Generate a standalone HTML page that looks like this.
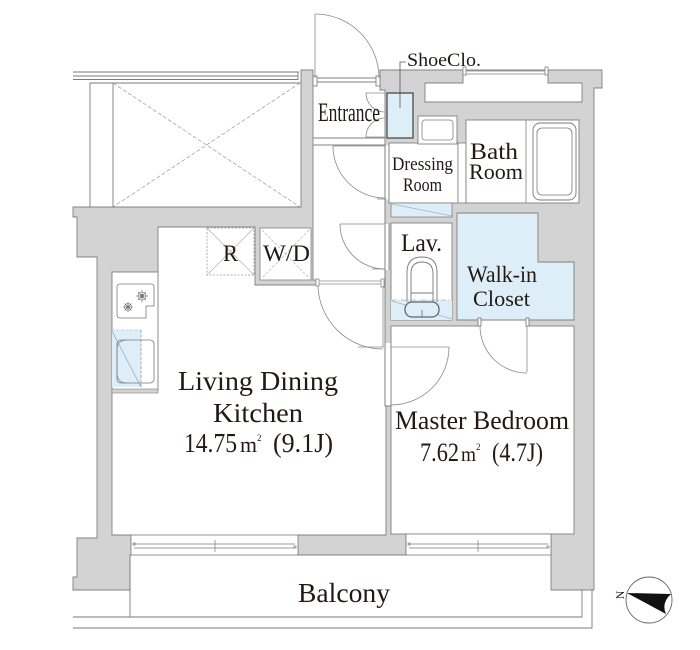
<!DOCTYPE html>
<html>
<head>
<meta charset="utf-8">
<style>
  html,body{margin:0;padding:0;background:#fff;}
  svg{display:block;}
  text{font-family:"Liberation Serif","DejaVu Serif",serif;fill:#231815;}
</style>
</head>
<body>
<svg width="700" height="650" viewBox="0 0 700 650" xmlns="http://www.w3.org/2000/svg">
  <rect x="0" y="0" width="700" height="650" fill="#fff"/>

  <!-- top-left balcony / storage area -->
  <g stroke="#7a7a7a" stroke-width="0.9" fill="none">
    <line x1="73" y1="72" x2="299" y2="72"/>
    <line x1="73" y1="76" x2="298" y2="76"/>
    <line x1="73" y1="79.5" x2="298" y2="79.5"/>
    <line x1="298" y1="72" x2="298" y2="80"/>
    <line x1="90" y1="83" x2="301" y2="83"/>
    <line x1="90" y1="83" x2="90" y2="207"/>
    <line x1="113" y1="83" x2="113" y2="207"/>
  </g>
  <g stroke="#9a9a9a" stroke-width="0.7" stroke-dasharray="4,2" fill="none">
    <line x1="113" y1="83" x2="300" y2="207"/>
    <line x1="300" y1="83" x2="113" y2="207"/>
  </g>

  <!-- gray walls -->
  <g fill="#d3d3d3" stroke="#808080" stroke-width="0.9">
    <polygon points="73,207 301,207 301,70 313,70 313,280 318,280 318,285 255,285 255,227 158,227 158,272 112,272 112,535 131,535 131,555 130,555 130,590 73,590 73,577 77,577 77,538 97,538 97,257 77,257 77,217 73,217"/>
    <polygon points="298,535 386,535 386,405 391,405 391,534 406,534 406,555 298,555"/>
    <polygon points="380,70 602,70 602,88 594,88 594,590 551,590 551,534 391,534 391,406 385,406 385,90 380,90"/>
  </g>

  <!-- white T (top right) -->
  <path d="M463,70 L548,70 L548,83 L582,83 L582,102 L425,102 L425,83 L463,83 Z" fill="#fff" stroke="#808080" stroke-width="0.9"/>
  <g stroke="#808080" stroke-width="0.8" fill="none">
    <line x1="465" y1="71" x2="546" y2="71"/>
    <line x1="465" y1="74" x2="546" y2="74"/>
    <rect x="463" y="67" width="3" height="8" fill="#fff"/>
    <rect x="545" y="67" width="3" height="8" fill="#fff"/>
  </g>

  <!-- entrance -->
  <g stroke="#808080" stroke-width="0.9" fill="none">
    <line x1="313" y1="78" x2="380" y2="78"/>
    <line x1="313" y1="82" x2="380" y2="82"/>
    <rect x="313" y="76" width="4" height="10" fill="#fff"/>
    <rect x="376" y="76" width="4" height="10" fill="#fff"/>
    <line x1="313" y1="138" x2="385" y2="138"/>
    <line x1="313" y1="145" x2="385" y2="145"/>
  </g>
  <!-- entrance door -->
  <g stroke="#8a8a8a" stroke-width="0.8" fill="none">
    <line x1="315" y1="14" x2="315" y2="78"/>
    <path d="M315,14 A64,64 0 0 1 379,78"/>
    <!-- shoe closet small doors -->
    <path d="M385,93 L366,93 A19,19 0 0 0 385,112"/>
    <path d="M385,137 L366,137 A19,19 0 0 1 385,118"/>
  </g>

  <!-- ShoeClo -->
  <rect x="387" y="93" width="26" height="45" fill="#ddeef9" stroke="#555" stroke-width="1.4"/>
  <polyline points="400,108 400,62 406,62" fill="none" stroke="#555" stroke-width="0.8"/>

  <!-- Dressing room -->
  <rect x="389" y="143" width="69" height="60" fill="#fff" stroke="#808080" stroke-width="0.9"/>
  <rect x="418" y="116" width="39" height="28" fill="#fff" stroke="#808080" stroke-width="0.9"/>
  <rect x="422" y="120" width="31" height="20" rx="3" fill="none" stroke="#808080" stroke-width="0.8"/>
  <rect x="391" y="203" width="61" height="14" fill="#ddeef9" stroke="#808080" stroke-width="0.8"/>
  <line x1="392" y1="204" x2="452" y2="216" stroke="#8a9aa8" stroke-width="0.6"/>
  <!-- bath door -->
  <rect x="458" y="143" width="8" height="60" fill="#fff" stroke="#808080" stroke-width="0.8"/>
  <polyline points="466,191 488,195 466,199" fill="none" stroke="#8a8a8a" stroke-width="0.6"/>

  <!-- Bath room -->
  <rect x="466" y="120" width="113" height="83" fill="#fff" stroke="#808080" stroke-width="0.9"/>
  <line x1="526" y1="120" x2="526" y2="203" stroke="#808080" stroke-width="0.8"/>
  <rect x="533" y="123" width="43" height="77" rx="7" fill="#fff" stroke="#7a7a7a" stroke-width="0.9"/>
  <rect x="537" y="128" width="35" height="67" rx="5" fill="none" stroke="#7a7a7a" stroke-width="0.8"/>

  <!-- Lav -->
  <rect x="391" y="223" width="61" height="97" fill="#fff" stroke="#808080" stroke-width="0.9"/>
  <rect x="391" y="300" width="61" height="20" fill="#ddeef9" stroke="none"/>
  <line x1="391" y1="300" x2="452" y2="300" stroke="#8a9aa8" stroke-width="0.6" stroke-dasharray="5,2,1,2"/>
  <line x1="392" y1="301" x2="452" y2="319" stroke="#8a9aa8" stroke-width="0.6"/>
  <g fill="none" stroke="#7a7a7a" stroke-width="0.9">
    <path d="M407,302 L407,272 Q407,257 422,257 Q437,257 437,272 L437,302"/>
    <path d="M411,302 L411,274 Q411,262 422,262 Q433,262 433,274 L433,302"/>
    <line x1="411" y1="293" x2="433" y2="293"/>
    <rect x="405" y="302" width="34" height="15" rx="7" stroke="#666" stroke-width="1.3" fill="#ddeef9"/>
    <line x1="422" y1="310" x2="422" y2="317"/>
  </g>

  <!-- Walk-in closet -->
  <polygon points="457,213 538,213 538,262 574,262 574,320 457,320" fill="#ddeef9" stroke="#808080" stroke-width="0.9"/>

  <!-- Bedroom -->
  <rect x="391" y="326" width="183" height="208" fill="#fff" stroke="#808080" stroke-width="0.9"/>

  <!-- partition openings -->
  <g fill="#fff" stroke="none">
    <rect x="385.5" y="145.5" width="3.5" height="54"/>
    <rect x="385.5" y="224" width="3.5" height="46"/>
    <rect x="385.5" y="343" width="5.5" height="62.5"/>
    <rect x="480" y="319.5" width="47" height="7"/>
  </g>
  <g stroke="#808080" stroke-width="0.9" fill="none">
    <line x1="385" y1="143" x2="385" y2="406"/>
    <line x1="389" y1="145" x2="389" y2="200"/>
    <line x1="389" y1="223" x2="389" y2="270"/>
    <line x1="391" y1="343" x2="391" y2="406"/>
    <line x1="480" y1="320" x2="527" y2="320"/>
    <rect x="478" y="318" width="3" height="8" fill="#fff"/>
    <rect x="526" y="318" width="3" height="8" fill="#fff"/>
  </g>

  <!-- doors -->
  <g stroke="#8a8a8a" stroke-width="0.8" fill="none">
    <!-- dressing door -->
    <line x1="333" y1="146" x2="385" y2="146"/>
    <path d="M333,146 A52,52 0 0 0 385,198"/>
    <line x1="377" y1="199" x2="386" y2="199"/>
    <!-- lav door -->
    <line x1="340" y1="224" x2="385" y2="224"/>
    <path d="M340,224 A45,45 0 0 0 385,269"/>
    <line x1="372" y1="269" x2="385" y2="269"/>
    <!-- LDK door -->
    <line x1="318" y1="281" x2="383" y2="281"/>
    <line x1="318" y1="284" x2="383" y2="284"/>
    <rect x="316" y="279" width="3" height="7" fill="#fff"/>
    <rect x="381" y="279" width="3" height="8" fill="#fff"/>
    <path d="M318,286 A65,65 0 0 0 383,349"/>
    <line x1="358" y1="347" x2="384" y2="347"/>
    <line x1="383" y1="286" x2="383" y2="347"/>
    <!-- bedroom door -->
    <line x1="391" y1="347" x2="449" y2="347"/>
    <path d="M449,347 A58,58 0 0 1 391,405"/>
    <!-- closet door -->
    <line x1="527" y1="326" x2="527" y2="372"/>
    <path d="M480,326 A47,47 0 0 0 527,373"/>
  </g>

  <!-- R and W/D -->
  <rect x="207" y="228" width="47" height="47" fill="#fff" stroke="#999" stroke-width="0.8" stroke-dasharray="2,1.5"/>
  <g stroke="#aaa" stroke-width="0.6" fill="none">
    <line x1="207" y1="228" x2="254" y2="275"/>
    <line x1="254" y1="228" x2="207" y2="275"/>
  </g>
  <rect x="260" y="228" width="51" height="52" fill="#fff" stroke="#808080" stroke-width="0.8"/>
  <g stroke="#aaa" stroke-width="0.6" fill="none" stroke-dasharray="3,1.5">
    <line x1="262" y1="230" x2="309" y2="278"/>
    <line x1="309" y1="230" x2="262" y2="278"/>
  </g>

  <!-- kitchen counter -->
  <rect x="112" y="272" width="46" height="118" fill="#fff" stroke="#808080" stroke-width="0.9"/>
  <rect x="112" y="389" width="46" height="4" fill="#d3d3d3" stroke="#808080" stroke-width="0.6"/>
  <path d="M117,287 Q117,284 120,284 L151,284 Q154,284 154,287 L154,306 L146,306 L146,318 L120,318 Q117,318 117,315 Z" fill="#fff" stroke="#7a7a7a" stroke-width="0.8"/>
  <g stroke="#6a6a6a" stroke-width="0.6" fill="none">
    <circle cx="142" cy="296" r="4"/>
    <circle cx="142" cy="296" r="1.8"/>
    <line x1="136" y1="296" x2="148" y2="296"/>
    <line x1="142" y1="290" x2="142" y2="302"/>
    <line x1="138" y1="292" x2="146" y2="300"/>
    <line x1="146" y1="292" x2="138" y2="300"/>
    <circle cx="128" cy="307" r="3.5"/>
    <circle cx="128" cy="307" r="1.5"/>
    <line x1="123" y1="307" x2="133" y2="307"/>
    <line x1="128" y1="302" x2="128" y2="312"/>
    <line x1="124.5" y1="303.5" x2="131.5" y2="310.5"/>
    <line x1="131.5" y1="303.5" x2="124.5" y2="310.5"/>
  </g>
  <rect x="112" y="330" width="29" height="57" fill="#ddeef9"/>
  <rect x="117" y="340" width="37" height="43" rx="4" fill="none" stroke="#7a7a7a" stroke-width="0.8"/>
  <path d="M127,340 Q117,340 117,350 L117,373 Q117,383 127,383" fill="none" stroke="#7a7a7a" stroke-width="0.7"/>
  <line x1="141" y1="330" x2="141" y2="388" stroke="#888" stroke-width="0.7" stroke-dasharray="3,1.5"/>
  <line x1="112" y1="330" x2="141" y2="330" stroke="#aaa" stroke-width="0.6" stroke-dasharray="3,1.5"/>
  <line x1="112" y1="331" x2="141" y2="387" stroke="#8a9aa8" stroke-width="0.6"/>

  <!-- windows -->
  <g stroke="#7a7a7a" stroke-width="0.8" fill="#fff">
    <rect x="131" y="535" width="167" height="20"/>
    <rect x="406" y="534" width="145" height="21"/>
  </g>
  <g stroke="#7a7a7a" stroke-width="0.7" fill="none">
    <line x1="134" y1="544" x2="295" y2="544"/>
    <line x1="134" y1="548" x2="295" y2="548"/>
    <line x1="215" y1="540" x2="215" y2="552"/>
    <rect x="133" y="543" width="2" height="2"/>
    <rect x="294" y="546" width="2" height="2"/>
    <line x1="409" y1="544" x2="548" y2="544"/>
    <line x1="409" y1="548" x2="548" y2="548"/>
    <line x1="478" y1="540" x2="478" y2="552"/>
    <rect x="408" y="543" width="2" height="2"/>
    <rect x="547" y="546" width="2" height="2"/>
  </g>

  <!-- balcony lines -->
  <g stroke="#7a7a7a" stroke-width="0.9" fill="none">
    <line x1="130" y1="555" x2="130" y2="617"/>
    <polyline points="73,617 582,617 582,590"/>
    <polyline points="73,628 592,628 592,590"/>
  </g>

  <!-- compass -->
  <circle cx="649" cy="600" r="23" fill="#fff" stroke="#666" stroke-width="0.9"/>
  <path d="M627,593 L671,594 Q661,603 666,614 Z" fill="#111"/>
  <text x="0" y="0" font-size="12" transform="translate(624,595) rotate(-90)" text-anchor="middle" fill="#111">N</text>

  <!-- labels -->
  <text x="407" y="66" font-size="19" textLength="74" lengthAdjust="spacingAndGlyphs">ShoeClo.</text>
  <text x="318" y="121" font-size="26" textLength="62" lengthAdjust="spacingAndGlyphs">Entrance</text>
  <text x="392" y="170" font-size="19" textLength="61" lengthAdjust="spacingAndGlyphs">Dressing</text>
  <text x="403" y="191" font-size="19" textLength="39" lengthAdjust="spacingAndGlyphs">Room</text>
  <text x="470" y="159" font-size="23" textLength="48" lengthAdjust="spacingAndGlyphs">Bath</text>
  <text x="469" y="179" font-size="22" textLength="54" lengthAdjust="spacingAndGlyphs">Room</text>
  <text x="401" y="251" font-size="25" textLength="41" lengthAdjust="spacingAndGlyphs">Lav.</text>
  <text x="467" y="282" font-size="23" textLength="70" lengthAdjust="spacingAndGlyphs">Walk-in</text>
  <text x="473" y="306" font-size="22" textLength="57" lengthAdjust="spacingAndGlyphs">Closet</text>
  <text x="223" y="261" font-size="23" textLength="15" lengthAdjust="spacingAndGlyphs">R</text>
  <text x="263" y="261" font-size="23" textLength="47" lengthAdjust="spacingAndGlyphs">W/D</text>

  <text x="178" y="390" font-size="27" textLength="160" lengthAdjust="spacingAndGlyphs">Living Dining</text>
  <text x="213" y="422" font-size="27" textLength="90" lengthAdjust="spacingAndGlyphs">Kitchen</text>
  <text x="184" y="452" font-size="27" textLength="53" lengthAdjust="spacingAndGlyphs">14.75</text>
  <text x="240" y="452" font-size="22" textLength="17" lengthAdjust="spacingAndGlyphs">m</text>
  <text x="257" y="441" font-size="9">2</text>
  <text x="273" y="452" font-size="27" textLength="60" lengthAdjust="spacingAndGlyphs">(9.1J)</text>

  <text x="395" y="429" font-size="26" textLength="174" lengthAdjust="spacingAndGlyphs">Master Bedroom</text>
  <text x="420" y="461" font-size="26" textLength="39" lengthAdjust="spacingAndGlyphs">7.62</text>
  <text x="461" y="461" font-size="21" textLength="15" lengthAdjust="spacingAndGlyphs">m</text>
  <text x="476" y="450" font-size="9">2</text>
  <text x="492" y="461" font-size="26" textLength="51" lengthAdjust="spacingAndGlyphs">(4.7J)</text>

  <text x="298" y="602" font-size="27" textLength="92" lengthAdjust="spacingAndGlyphs">Balcony</text>
</svg>
</body>
</html>
